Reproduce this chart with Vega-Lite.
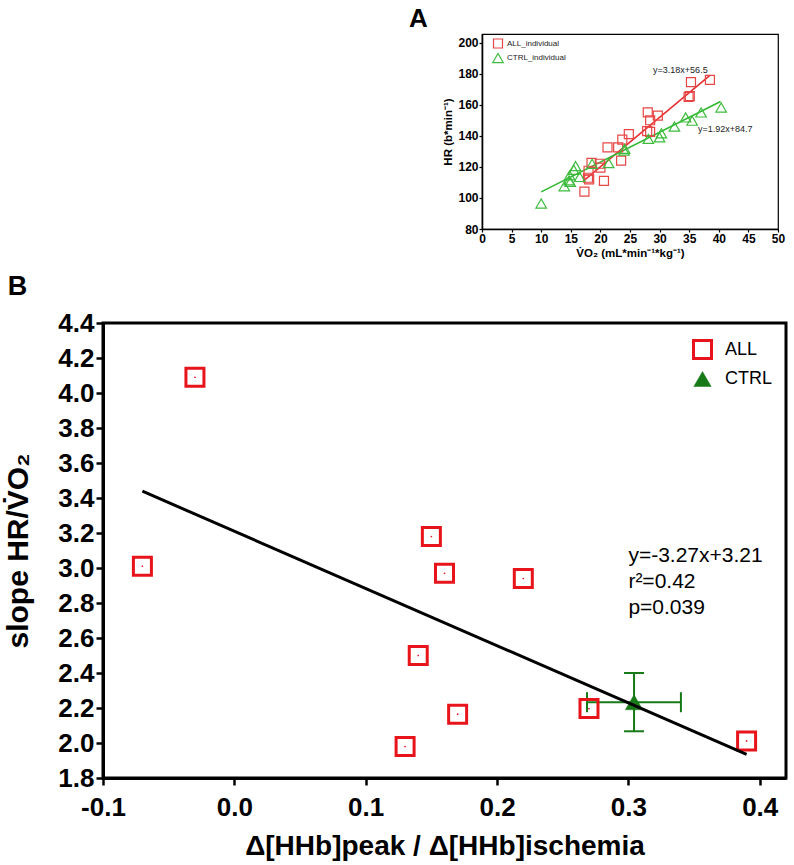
{
  "$schema": "https://vega.github.io/schema/vega-lite/v6.json",
  "padding": {"left": 2, "top": 5, "right": 5, "bottom": 5},
  "background": "white",
  "config": {
    "font": "Liberation Sans",
    "axis": {"labelColor": "black", "titleColor": "black", "domainColor": "black", "tickColor": "black", "grid": false, "labelFontWeight": "bold", "titleFontWeight": "bold", "labelFont": "Liberation Sans", "titleFont": "Liberation Sans", "labelFlush": false, "labelOverlap": false, "labelBound": false},
    "title": {"color": "black", "font": "Liberation Sans"},
    "legend": {"labelFont": "Liberation Sans", "labelColor": "black"}
  },
  "datasets": {
    "A_pts": [
      {"series": "ALL_individual", "vo2": 38.5, "hr": 176},
      {"series": "ALL_individual", "vo2": 35.3, "hr": 174.5},
      {"series": "ALL_individual", "vo2": 34.9, "hr": 165},
      {"series": "ALL_individual", "vo2": 35.1, "hr": 165.5},
      {"series": "ALL_individual", "vo2": 28.0, "hr": 155},
      {"series": "ALL_individual", "vo2": 29.7, "hr": 153},
      {"series": "ALL_individual", "vo2": 28.4, "hr": 150},
      {"series": "ALL_individual", "vo2": 27.9, "hr": 143},
      {"series": "ALL_individual", "vo2": 28.4, "hr": 142.5},
      {"series": "ALL_individual", "vo2": 24.8, "hr": 141},
      {"series": "ALL_individual", "vo2": 23.7, "hr": 137.5},
      {"series": "ALL_individual", "vo2": 23.0, "hr": 132.5},
      {"series": "ALL_individual", "vo2": 21.2, "hr": 132.5},
      {"series": "ALL_individual", "vo2": 23.5, "hr": 124},
      {"series": "ALL_individual", "vo2": 18.5, "hr": 122.5},
      {"series": "ALL_individual", "vo2": 19.9, "hr": 122},
      {"series": "ALL_individual", "vo2": 20.0, "hr": 119.5},
      {"series": "ALL_individual", "vo2": 18.0, "hr": 117.5},
      {"series": "ALL_individual", "vo2": 17.9, "hr": 113},
      {"series": "ALL_individual", "vo2": 18.1, "hr": 112},
      {"series": "ALL_individual", "vo2": 20.6, "hr": 111},
      {"series": "ALL_individual", "vo2": 17.3, "hr": 104},
      {"series": "CTRL_individual", "vo2": 40.4, "hr": 158.2},
      {"series": "CTRL_individual", "vo2": 37.0, "hr": 155},
      {"series": "CTRL_individual", "vo2": 34.4, "hr": 151.8},
      {"series": "CTRL_individual", "vo2": 35.5, "hr": 149.7},
      {"series": "CTRL_individual", "vo2": 32.5, "hr": 145.9},
      {"series": "CTRL_individual", "vo2": 30.3, "hr": 141.6},
      {"series": "CTRL_individual", "vo2": 30.0, "hr": 139},
      {"series": "CTRL_individual", "vo2": 28.1, "hr": 138},
      {"series": "CTRL_individual", "vo2": 24.0, "hr": 130.5},
      {"series": "CTRL_individual", "vo2": 24.1, "hr": 131.6},
      {"series": "CTRL_individual", "vo2": 21.4, "hr": 122.4},
      {"series": "CTRL_individual", "vo2": 18.6, "hr": 122},
      {"series": "CTRL_individual", "vo2": 15.8, "hr": 120.5},
      {"series": "CTRL_individual", "vo2": 15.5, "hr": 118.1},
      {"series": "CTRL_individual", "vo2": 16.5, "hr": 113.5},
      {"series": "CTRL_individual", "vo2": 14.8, "hr": 114.5},
      {"series": "CTRL_individual", "vo2": 14.7, "hr": 111.3},
      {"series": "CTRL_individual", "vo2": 14.9, "hr": 110.3},
      {"series": "CTRL_individual", "vo2": 13.9, "hr": 107.5},
      {"series": "CTRL_individual", "vo2": 10.0, "hr": 96.4}
    ],
    "A_fit": [
      {"series": "ALL_individual", "vo2": 17.3, "hr": 111.5},
      {"series": "ALL_individual", "vo2": 38.5, "hr": 178.9},
      {"series": "CTRL_individual", "vo2": 10.0, "hr": 103.9},
      {"series": "CTRL_individual", "vo2": 40.3, "hr": 162.1}
    ],
    "A_txt": [
      {"vo2": 28.9, "hr": 180.4, "label": "y=3.18x+56.5"},
      {"vo2": 36.5, "hr": 142.4, "label": "y=1.92x+84.7"}
    ],
    "B_pts": [
      {"group": "ALL", "x": -0.070, "y": 3.01},
      {"group": "ALL", "x": -0.030, "y": 4.09},
      {"group": "ALL", "x": 0.150, "y": 3.18},
      {"group": "ALL", "x": 0.160, "y": 2.97},
      {"group": "ALL", "x": 0.220, "y": 2.94},
      {"group": "ALL", "x": 0.140, "y": 2.50},
      {"group": "ALL", "x": 0.170, "y": 2.165},
      {"group": "ALL", "x": 0.130, "y": 1.98},
      {"group": "ALL", "x": 0.270, "y": 2.197},
      {"group": "ALL", "x": 0.390, "y": 2.012},
      {"group": "CTRL", "x": 0.3043, "y": 2.233}
    ],
    "B_ctrl": [
      {"x": 0.3043, "y": 2.233, "xlo": 0.2685, "xhi": 0.340, "ylo": 2.067, "yhi": 2.400}
    ],
    "B_fit": [
      {"x": -0.07, "y": 3.439},
      {"x": 0.39, "y": 1.935}
    ],
    "B_txt": [
      {"x": 0.300, "y": 3.033, "label": "y=-3.27x+3.21"},
      {"x": 0.300, "y": 2.885, "label": "r²=0.42"},
      {"x": 0.300, "y": 2.739, "label": "p=0.039"}
    ]
  },
  "resolve": {
    "scale": {"x": "independent", "y": "independent", "color": "independent", "shape": "independent", "stroke": "independent", "fill": "independent", "size": "independent", "strokeWidth": "independent"},
    "legend": {"color": "independent", "shape": "independent", "stroke": "independent", "fill": "independent", "size": "independent", "strokeWidth": "independent"}
  },
  "spacing": 11,
  "vconcat": [
    {
      "spacing": 0,
      "resolve": {
        "scale": {"x": "independent", "y": "independent", "color": "independent", "shape": "independent", "size": "independent"},
        "legend": {"color": "independent", "shape": "independent", "size": "independent"}
      },
      "hconcat": [
        {
          "width": 305,
          "height": 195,
          "view": {"stroke": null},
          "data": {"values": []},
          "mark": {"type": "point", "opacity": 0},
          "encoding": {}
        },
        {
          "width": 296,
          "height": 195,
          "title": {"text": "A", "anchor": "start", "frame": "bounds", "fontSize": 26, "fontWeight": "bold", "dx": -34, "offset": 2},
          "view": {"stroke": "black", "strokeWidth": 1.2},
          "encoding": {
            "x": {"field": "vo2", "type": "quantitative", "scale": {"domain": [0, 50], "nice": false, "zero": false},
              "axis": {"title": "V̇O₂ (mL*min⁻¹*kg⁻¹)", "values": [0, 5, 10, 15, 20, 25, 30, 35, 40, 45, 50], "format": "d", "labelOverlap": false, "labelFontSize": 12, "titleFontSize": 11.5, "tickSize": 3, "domainWidth": 1.6, "tickWidth": 1.2, "labelPadding": 1, "titlePadding": 3}},
            "y": {"field": "hr", "type": "quantitative", "scale": {"domain": [80, 205.5], "nice": false, "zero": false},
              "axis": {"title": "HR (b*min⁻¹)", "values": [80, 100, 120, 140, 160, 180, 200], "format": "d", "labelOverlap": false, "labelFontSize": 12, "titleFontSize": 11.5, "tickSize": 3, "domainWidth": 1.6, "tickWidth": 1.2, "labelPadding": 1, "titlePadding": 4}}
          },
          "layer": [
            {
              "data": {"name": "A_fit"},
              "transform": [{"filter": "datum.series === 'ALL_individual'"}],
              "mark": {"type": "line", "strokeWidth": 1.6, "color": "#e83030"}
            },
            {
              "data": {"name": "A_fit"},
              "transform": [{"filter": "datum.series === 'CTRL_individual'"}],
              "mark": {"type": "line", "strokeWidth": 1.6, "color": "#2fb82f"}
            },
            {
              "data": {"name": "A_pts"},
              "mark": {"type": "point", "filled": false, "strokeWidth": 1.2, "opacity": 1},
              "encoding": {
                "shape": {"field": "series", "type": "nominal", "scale": {"domain": ["ALL_individual", "CTRL_individual"], "range": ["square", "triangle-up"]},
                  "legend": {"title": null, "orient": "none", "legendX": 10, "legendY": 4, "labelFontSize": 8, "labelColor": "#222", "labelFontWeight": "normal", "rowPadding": 0, "labelOffset": 3, "symbolStrokeWidth": 1.2, "padding": 0}},
                "color": {"field": "series", "type": "nominal", "scale": {"domain": ["ALL_individual", "CTRL_individual"], "range": ["#e84545", "#3cbb3c"]},
                  "legend": {"title": null, "orient": "none", "legendX": 10, "legendY": 4, "labelFontSize": 8, "labelColor": "#222", "labelFontWeight": "normal", "rowPadding": 0, "labelOffset": 3, "symbolStrokeWidth": 1.2, "padding": 0}},
                "size": {"field": "series", "type": "nominal", "scale": {"domain": ["ALL_individual", "CTRL_individual"], "range": [81, 110]},
                  "legend": {"title": null, "orient": "none", "legendX": 10, "legendY": 4, "labelFontSize": 8, "labelColor": "#222", "labelFontWeight": "normal", "rowPadding": 0, "labelOffset": 3, "symbolStrokeWidth": 1.2, "padding": 0}}
              }
            },
            {
              "data": {"name": "A_txt"},
              "mark": {"type": "text", "align": "left", "baseline": "alphabetic", "fontSize": 9, "color": "#222", "font": "Liberation Sans"},
              "encoding": {
                "text": {"field": "label", "type": "nominal"}
              }
            }
          ]
        }
      ]
    },
    {
      "width": 683,
      "height": 455,
      "title": {"text": "B", "anchor": "start", "frame": "bounds", "fontSize": 27, "fontWeight": "bold", "offset": 9, "dx": 4},
      "view": {"stroke": "black", "strokeWidth": 3},
      "encoding": {
        "x": {"field": "x", "type": "quantitative", "scale": {"domain": [-0.1, 0.42], "nice": false, "zero": false},
          "axis": {"title": "Δ[HHb]peak / Δ[HHb]ischemia", "values": [-0.1, 0, 0.1, 0.2, 0.3, 0.4], "labelExpr": "replace(format(datum.value, '.1f'), '−', '-')", "labelOverlap": false, "labelFontSize": 26, "titleFontSize": 28, "domainWidth": 3, "tickWidth": 2.5, "tickSize": 7, "labelPadding": 9, "titlePadding": 12}},
        "y": {"field": "y", "type": "quantitative", "scale": {"domain": [1.8, 4.4], "nice": false, "zero": false},
          "axis": {"title": "slope HR/V̇O₂", "values": [1.8, 2.0, 2.2, 2.4, 2.6, 2.8, 3.0, 3.2, 3.4, 3.6, 3.8, 4.0, 4.2, 4.4], "format": ".1f", "labelOverlap": false, "labelFontSize": 26, "titleFontSize": 30, "domainWidth": 3, "tickWidth": 2.5, "tickSize": 7, "labelPadding": 2, "titlePadding": 24}}
      },
      "layer": [
        {
          "data": {"name": "B_ctrl"},
          "mark": {"type": "rule", "color": "#177a17", "strokeWidth": 2},
          "encoding": {
            "x": {"field": "xlo", "type": "quantitative", "scale": {"domain": [-0.1, 0.42], "nice": false, "zero": false},
              "axis": {"title": "Δ[HHb]peak / Δ[HHb]ischemia", "values": [-0.1, 0, 0.1, 0.2, 0.3, 0.4], "labelExpr": "replace(format(datum.value, '.1f'), '−', '-')", "labelOverlap": false, "labelFontSize": 26, "titleFontSize": 28, "domainWidth": 3, "tickWidth": 2.5, "tickSize": 7, "labelPadding": 9, "titlePadding": 12}},
            "x2": {"field": "xhi"}
          }
        },
        {
          "data": {"name": "B_ctrl"},
          "mark": {"type": "rule", "color": "#177a17", "strokeWidth": 2},
          "encoding": {
            "y": {"field": "ylo", "type": "quantitative", "scale": {"domain": [1.8, 4.4], "nice": false, "zero": false},
              "axis": {"title": "slope HR/V̇O₂", "values": [1.8, 2.0, 2.2, 2.4, 2.6, 2.8, 3.0, 3.2, 3.4, 3.6, 3.8, 4.0, 4.2, 4.4], "format": ".1f", "labelOverlap": false, "labelFontSize": 26, "titleFontSize": 30, "domainWidth": 3, "tickWidth": 2.5, "tickSize": 7, "labelPadding": 2, "titlePadding": 24}},
            "y2": {"field": "yhi"}
          }
        },
        {
          "data": {"name": "B_ctrl"},
          "mark": {"type": "tick", "color": "#177a17", "orient": "vertical", "size": 20, "thickness": 2, "opacity": 1},
          "encoding": {
            "x": {"field": "xlo", "type": "quantitative", "scale": {"domain": [-0.1, 0.42], "nice": false, "zero": false},
              "axis": {"title": "Δ[HHb]peak / Δ[HHb]ischemia", "values": [-0.1, 0, 0.1, 0.2, 0.3, 0.4], "labelExpr": "replace(format(datum.value, '.1f'), '−', '-')", "labelOverlap": false, "labelFontSize": 26, "titleFontSize": 28, "domainWidth": 3, "tickWidth": 2.5, "tickSize": 7, "labelPadding": 9, "titlePadding": 12}}
          }
        },
        {
          "data": {"name": "B_ctrl"},
          "mark": {"type": "tick", "color": "#177a17", "orient": "vertical", "size": 20, "thickness": 2, "opacity": 1},
          "encoding": {
            "x": {"field": "xhi", "type": "quantitative", "scale": {"domain": [-0.1, 0.42], "nice": false, "zero": false},
              "axis": {"title": "Δ[HHb]peak / Δ[HHb]ischemia", "values": [-0.1, 0, 0.1, 0.2, 0.3, 0.4], "labelExpr": "replace(format(datum.value, '.1f'), '−', '-')", "labelOverlap": false, "labelFontSize": 26, "titleFontSize": 28, "domainWidth": 3, "tickWidth": 2.5, "tickSize": 7, "labelPadding": 9, "titlePadding": 12}}
          }
        },
        {
          "data": {"name": "B_ctrl"},
          "mark": {"type": "tick", "color": "#177a17", "orient": "horizontal", "size": 20, "thickness": 2, "opacity": 1},
          "encoding": {
            "y": {"field": "ylo", "type": "quantitative", "scale": {"domain": [1.8, 4.4], "nice": false, "zero": false},
              "axis": {"title": "slope HR/V̇O₂", "values": [1.8, 2.0, 2.2, 2.4, 2.6, 2.8, 3.0, 3.2, 3.4, 3.6, 3.8, 4.0, 4.2, 4.4], "format": ".1f", "labelOverlap": false, "labelFontSize": 26, "titleFontSize": 30, "domainWidth": 3, "tickWidth": 2.5, "tickSize": 7, "labelPadding": 2, "titlePadding": 24}}
          }
        },
        {
          "data": {"name": "B_ctrl"},
          "mark": {"type": "tick", "color": "#177a17", "orient": "horizontal", "size": 20, "thickness": 2, "opacity": 1},
          "encoding": {
            "y": {"field": "yhi", "type": "quantitative", "scale": {"domain": [1.8, 4.4], "nice": false, "zero": false},
              "axis": {"title": "slope HR/V̇O₂", "values": [1.8, 2.0, 2.2, 2.4, 2.6, 2.8, 3.0, 3.2, 3.4, 3.6, 3.8, 4.0, 4.2, 4.4], "format": ".1f", "labelOverlap": false, "labelFontSize": 26, "titleFontSize": 30, "domainWidth": 3, "tickWidth": 2.5, "tickSize": 7, "labelPadding": 2, "titlePadding": 24}}
          }
        },
        {
          "data": {"name": "B_pts"},
          "mark": {"type": "point", "opacity": 1},
          "encoding": {
            "shape": {"field": "group", "type": "nominal", "scale": {"domain": ["ALL", "CTRL"], "range": ["square", "triangle-up"]},
              "legend": {"title": null, "orient": "none", "legendX": 589, "legendY": 16, "labelFontSize": 18, "labelFontWeight": "normal", "rowPadding": 5, "labelOffset": 12, "padding": 0}},
            "stroke": {"field": "group", "type": "nominal", "scale": {"domain": ["ALL", "CTRL"], "range": ["#e8141b", "#177a17"]},
              "legend": {"title": null, "orient": "none", "legendX": 589, "legendY": 16, "labelFontSize": 18, "labelFontWeight": "normal", "rowPadding": 5, "labelOffset": 12, "padding": 0}},
            "fill": {"field": "group", "type": "nominal", "scale": {"domain": ["ALL", "CTRL"], "range": ["transparent", "#177a17"]},
              "legend": {"title": null, "orient": "none", "legendX": 589, "legendY": 16, "labelFontSize": 18, "labelFontWeight": "normal", "rowPadding": 5, "labelOffset": 12, "padding": 0}},
            "size": {"field": "group", "type": "nominal", "scale": {"domain": ["ALL", "CTRL"], "range": [324, 300]},
              "legend": {"title": null, "orient": "none", "legendX": 589, "legendY": 16, "labelFontSize": 18, "labelFontWeight": "normal", "rowPadding": 5, "labelOffset": 12, "padding": 0}},
            "strokeWidth": {"field": "group", "type": "nominal", "scale": {"domain": ["ALL", "CTRL"], "range": [3, 0.5]},
              "legend": {"title": null, "orient": "none", "legendX": 589, "legendY": 16, "labelFontSize": 18, "labelFontWeight": "normal", "rowPadding": 5, "labelOffset": 12, "padding": 0}}
          }
        },
        {
          "data": {"name": "B_fit"},
          "mark": {"type": "line", "color": "black", "strokeWidth": 3}
        },
        {
          "data": {"name": "B_pts"},
          "transform": [{"filter": "datum.group === 'ALL'"}],
          "mark": {"type": "circle", "color": "#e8141b", "size": 3, "opacity": 1}
        },
        {
          "data": {"name": "B_txt"},
          "mark": {"type": "text", "align": "left", "baseline": "alphabetic", "fontSize": 21, "color": "black", "font": "Liberation Sans"},
          "encoding": {
            "text": {"field": "label", "type": "nominal"}
          }
        }
      ]
    }
  ]
}
